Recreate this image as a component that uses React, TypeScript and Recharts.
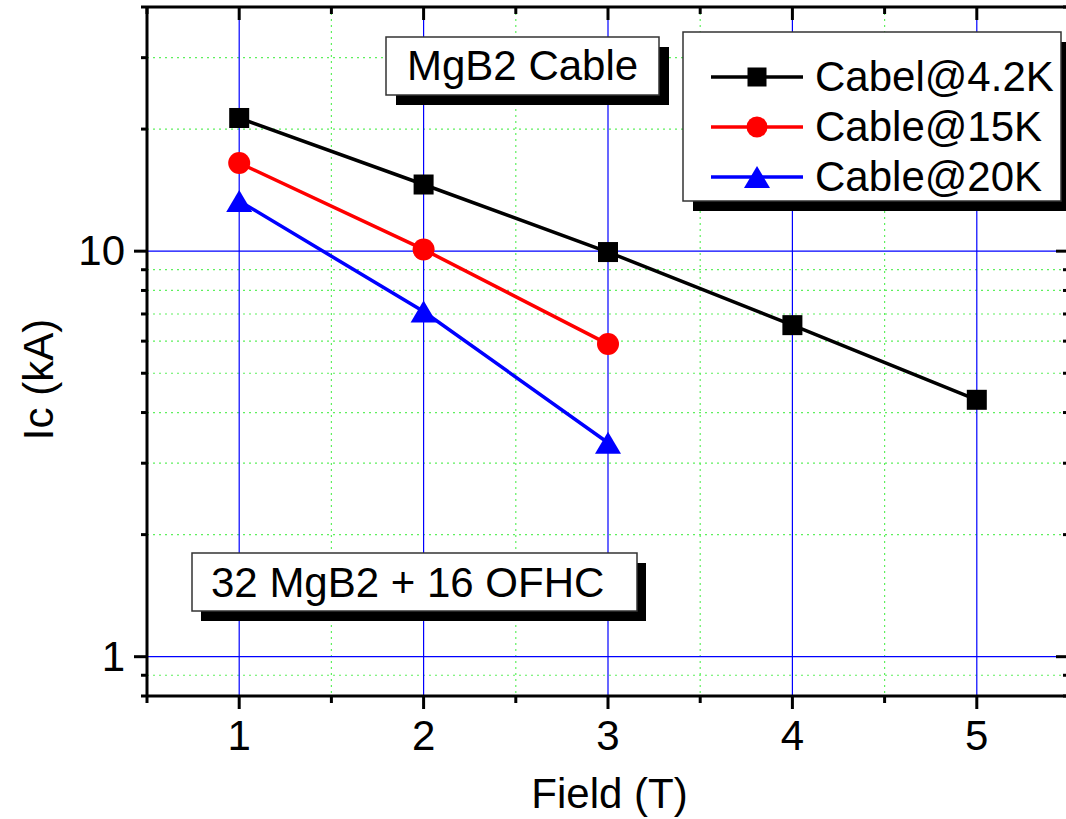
import React from 'react';
import { LineChart, Line, XAxis, YAxis, CartesianGrid, Customized } from 'recharts';

const fieldT = [1, 2, 3, 4, 5];
const cabel42K = [21.3, 14.6, 9.95, 6.57, 4.3];
const fieldT15 = [1, 2, 3];
const cable15K = [16.5, 10.1, 5.9];
const fieldT20 = [1, 2, 3];
const cable20K = [13.3, 7.1, 3.37];

const xTicks = [0.5, 1, 1.5, 2, 2.5, 3, 3.5, 4, 4.5, 5, 5.5];
const xMajor = [1, 2, 3, 4, 5];
const xMinor = [1.5, 2.5, 3.5, 4.5];
const yTicks = [0.8, 0.9, 1, 2, 3, 4, 5, 6, 7, 8, 9, 10, 20, 30, 40];
const yMajor = [1, 10];
const yMinor = [0.9, 2, 3, 4, 5, 6, 7, 8, 9, 20, 30];

const seriesNames = ['Cabel@4.2K', 'Cable@15K', 'Cable@20K'];
const seriesColors = ['#000000', '#ff0000', '#0000ff'];
const seriesShapes = ['square', 'circle', 'triangle'];

const boxLabels = ['MgB2 Cable', '32 MgB2 + 16 OFHC'];
const xTitle = 'Field (T)';
const yTitle = 'Ic (kA)';

const FONT = '"Liberation Sans", Arial, sans-serif';

const d42 = fieldT.map((x, i) => ({ x, y: cabel42K[i] }));
const d15 = fieldT15.map((x, i) => ({ x, y: cable15K[i] }));
const d20 = fieldT20.map((x, i) => ({ x, y: cable20K[i] }));

function Marker({ shape, color, cx, cy, legend }: any) {
  if (cx == null || cy == null) return <g />;
  if (shape === 'square') {
    const s = legend ? 19 : 20;
    return <rect x={cx - s / 2} y={cy - s / 2} width={s} height={s} fill={color} />;
  }
  if (shape === 'circle') {
    return <circle cx={cx} cy={cy} r={legend ? 10.5 : 11} fill={color} />;
  }
  const w = 26;
  const h = 22;
  return (
    <polygon
      points={`${cx},${cy - h / 2} ${cx - w / 2},${cy + h / 2} ${cx + w / 2},${cy + h / 2}`}
      fill={color}
    />
  );
}

const makeDot = (idx: number) => (p: any) => (
  <Marker key={`d${idx}-${p.index}`} shape={seriesShapes[idx]} color={seriesColors[idx]} cx={p.cx} cy={p.cy} />
);

const XTickBottom = (props: any) => {
  const { x, y, payload } = props;
  const v = payload.value;
  const major = xMajor.includes(v);
  return (
    <g>
      <line x1={x} x2={x} y1={y} y2={y + (major ? 13 : 7)} stroke="#000" strokeWidth={3} />
      {major && (
        <text x={x} y={y + 54} textAnchor="middle" fontFamily={FONT} fontSize={42} fill="#000">
          {v}
        </text>
      )}
    </g>
  );
};

const XTickTop = (props: any) => {
  const { x, y, payload } = props;
  const major = xMajor.includes(payload.value);
  return <line x1={x} x2={x} y1={y} y2={y + (major ? 13 : 7)} stroke="#000" strokeWidth={3} />;
};

const YTickLeft = (props: any) => {
  const { x, y, payload } = props;
  const v = payload.value;
  const major = yMajor.includes(v);
  return (
    <g>
      <line x1={x - (major ? 13 : 6)} x2={x} y1={y} y2={y} stroke="#000" strokeWidth={3} />
      {major && (
        <text x={x - 22} y={y + 14} textAnchor="end" fontFamily={FONT} fontSize={42} fill="#000">
          {v}
        </text>
      )}
    </g>
  );
};

const YTickRight = (props: any) => {
  const { x, y, payload } = props;
  const major = yMajor.includes(payload.value);
  return <line x1={x - (major ? 13 : 6)} x2={x} y1={y} y2={y} stroke="#000" strokeWidth={3} />;
};

const Overlay = () => {
  const lx = 683, ly = 32, lw = 378, lh = 169;
  const rows = [77, 127, 177];
  return (
    <g>
      <rect x={396} y={47} width={273} height={58} fill="#000" />
      <rect x={386} y={37} width={273} height={58} fill="#fff" stroke="#333" strokeWidth={1.5} />
      <text x={407} y={80} fontFamily={FONT} fontSize={42} fill="#000">{boxLabels[0]}</text>

      <rect x={201} y={563} width={445} height={58} fill="#000" />
      <rect x={192} y={553} width={445} height={58} fill="#fff" stroke="#333" strokeWidth={1.5} />
      <text x={211} y={597} fontFamily={FONT} fontSize={42} fill="#000">{boxLabels[1]}</text>

      <rect x={lx + 10} y={ly + 10} width={lw} height={lh} fill="#000" />
      <rect x={lx} y={ly} width={lw} height={lh} fill="#fff" stroke="#333" strokeWidth={1.5} />
      {seriesNames.map((name, i) => (
        <g key={name}>
          <line x1={711} x2={803} y1={rows[i]} y2={rows[i]} stroke={seriesColors[i]} strokeWidth={3.5} />
          <Marker shape={seriesShapes[i]} color={seriesColors[i]} cx={757} cy={rows[i]} legend />
          <text x={815} y={rows[i] + 14} fontFamily={FONT} fontSize={42} fill="#000">{name}</text>
        </g>
      ))}

      <text x={609.5} y={808} textAnchor="middle" fontFamily={FONT} fontSize={42} fill="#000">{xTitle}</text>
      <text
        x={53}
        y={379.5}
        transform="rotate(-90 53 379.5)"
        textAnchor="middle"
        fontFamily={FONT}
        fontSize={42}
        fill="#000"
      >
        {yTitle}
      </text>
    </g>
  );
};

export default function App() {
  return (
    <div style={{ position: 'absolute', left: 0, top: 0, width: 1066, height: 819, overflow: 'hidden', background: '#fff' }}>
      <LineChart width={1080} height={819} margin={{ top: 0, right: 0, bottom: 0, left: 0 }}>
        <CartesianGrid
          horizontalValues={yMinor}
          verticalValues={xMinor}
          stroke="#5ef05e"
          strokeWidth={1.2}
          strokeDasharray="2 4"
        />
        <CartesianGrid horizontalValues={yMajor} verticalValues={xMajor} stroke="#0000ff" strokeWidth={1.2} />
        <XAxis
          xAxisId={0}
          dataKey="x"
          type="number"
          domain={[0.5, 5.5]}
          allowDataOverflow
          ticks={xTicks}
          interval={0}
          height={123}
          tickSize={0}
          tickMargin={0}
          tickLine={false}
          tick={<XTickBottom />}
          axisLine={{ stroke: '#000', strokeWidth: 3 }}
        />
        <XAxis
          xAxisId="top"
          orientation="top"
          dataKey="x"
          type="number"
          domain={[0.5, 5.5]}
          allowDataOverflow
          ticks={xTicks}
          interval={0}
          height={7}
          tickSize={0}
          tickMargin={0}
          tickLine={false}
          tick={<XTickTop />}
          axisLine={{ stroke: '#000', strokeWidth: 3 }}
        />
        <YAxis
          yAxisId={0}
          dataKey="y"
          scale="log"
          type="number"
          domain={[0.8, 40]}
          allowDataOverflow
          ticks={yTicks}
          interval={0}
          width={147}
          tickSize={0}
          tickMargin={0}
          tickLine={false}
          tick={<YTickLeft />}
          axisLine={{ stroke: '#000', strokeWidth: 3 }}
        />
        <YAxis
          yAxisId="right"
          orientation="right"
          dataKey="y"
          scale="log"
          type="number"
          domain={[0.8, 40]}
          allowDataOverflow
          ticks={yTicks}
          interval={0}
          width={11}
          tickSize={0}
          tickMargin={0}
          tickLine={false}
          tick={<YTickRight />}
          axisLine={{ stroke: '#000', strokeWidth: 3 }}
        />
        <Line
          data={d42}
          dataKey="y"
          name={seriesNames[0]}
          stroke={seriesColors[0]}
          strokeWidth={3.5}
          dot={makeDot(0)}
          activeDot={false}
          isAnimationActive={false}
        />
        <Line
          data={d15}
          dataKey="y"
          name={seriesNames[1]}
          stroke={seriesColors[1]}
          strokeWidth={3.5}
          dot={makeDot(1)}
          activeDot={false}
          isAnimationActive={false}
        />
        <Line
          data={d20}
          dataKey="y"
          name={seriesNames[2]}
          stroke={seriesColors[2]}
          strokeWidth={3.5}
          dot={makeDot(2)}
          activeDot={false}
          isAnimationActive={false}
        />
        <Customized component={Overlay} />
      </LineChart>
    </div>
  );
}
